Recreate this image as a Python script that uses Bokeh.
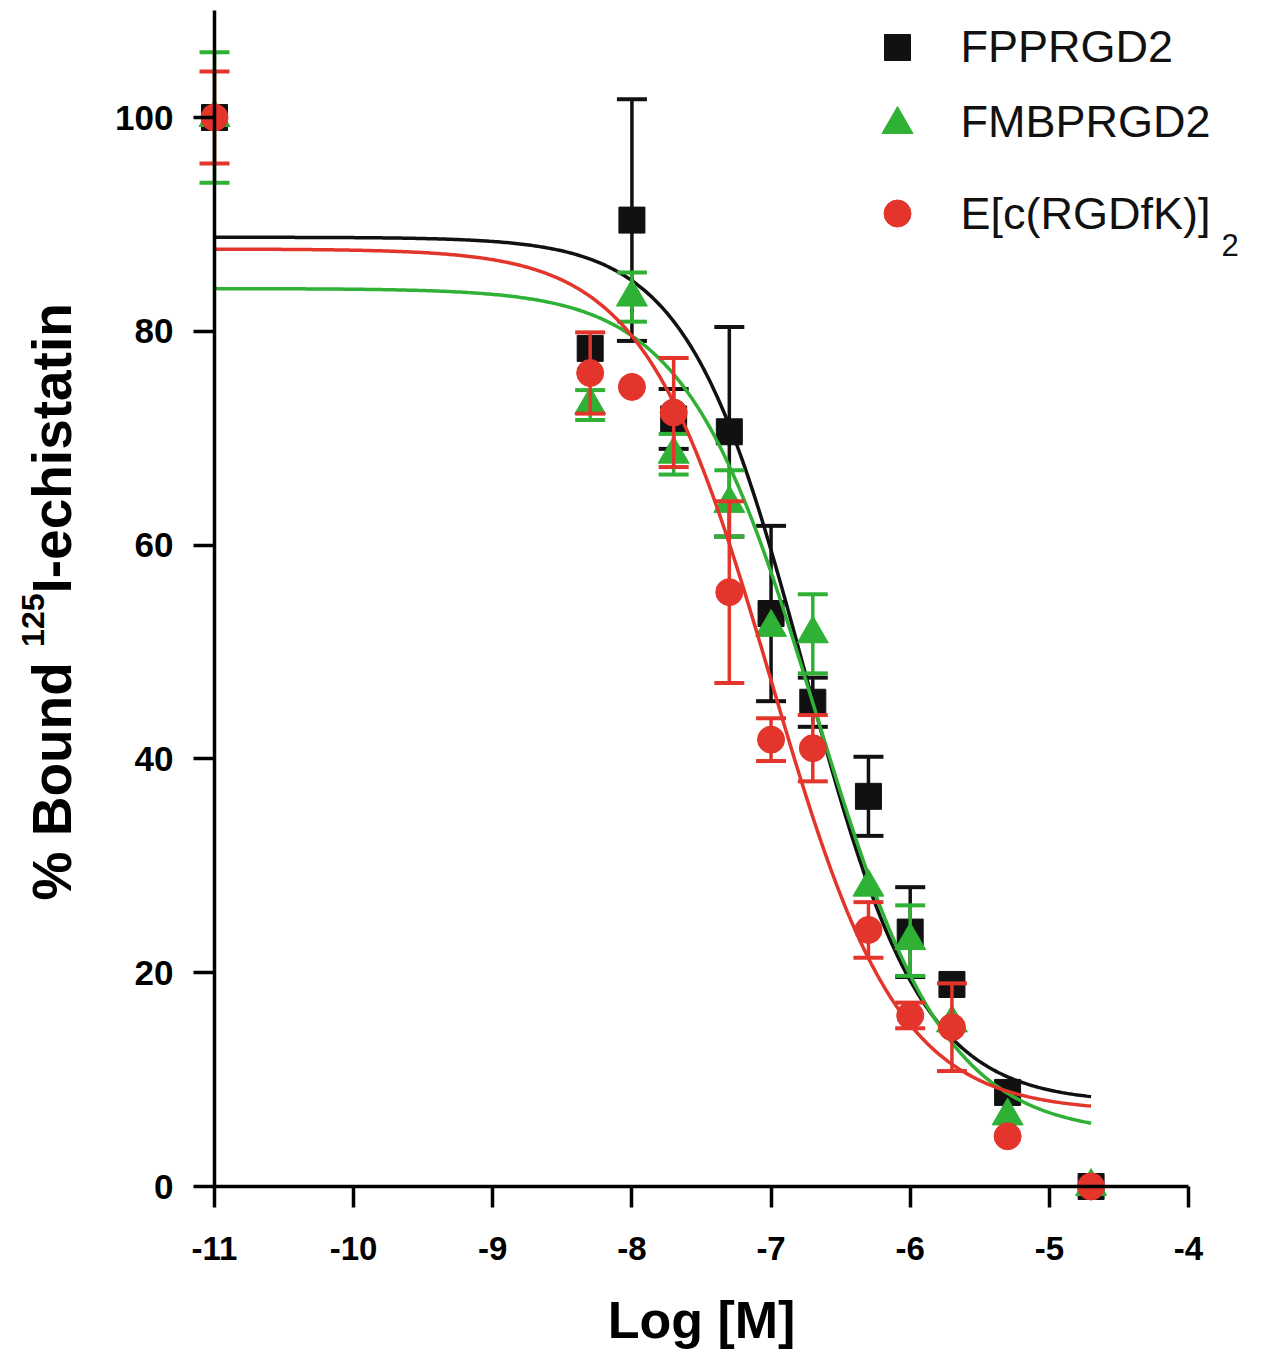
import numpy as np
from bokeh.plotting import figure
from bokeh.models import Range1d, FixedTicker, Label
from bokeh.embed import file_html
from bokeh.resources import INLINE

# ---------------- data ----------------
log_conc = [-11, -8.3, -8, -7.7, -7.3, -7, -6.7, -6.3, -6, -5.7, -5.3, -4.7]

fpp_mean = [100, 78.4, 90.4, 71.8, 70.6, 53.6, 45.3, 36.5, 23.8, 18.9, 8.8, 0]
fpp_err = [0, 0, 11.3, 2.8, 9.8, 8.2, 2.3, 3.7, 4.2, 0, 0, 0]

fmb_mean = [100, 73.1, 83.2, 68.5, 63.9, 52.3, 51.7, 28.0, 23.0, 15.3, 6.6, 0]
fmb_err = [6.1, 1.4, 2.3, 1.9, 3.1, 0, 3.7, 0, 3.3, 0, 0, 0]

rgd_mean = [100, 76.1, 74.8, 72.4, 55.6, 41.8, 41.0, 24.0, 16.0, 14.9, 4.7, 0]
rgd_err = [4.3, 3.8, 0, 5.1, 8.5, 2.0, 3.1, 2.6, 1.2, 4.1, 0, 0]

# fitted one-site competition curves: top, bottom, logIC50, hill
fpp_fit = [88.8, 7.8, -6.76, 1.03]
fmb_fit = [84.0, 4.8, -6.68, 0.93]
rgd_fit = [87.7, 7.0, -7.00, 0.95]
fit_range = [-11, -4.7]

series_names = ["FPPRGD2", "FMBPRGD2", "E[c(RGDfK)]"]
series_sub = ["", "", "2"]
series_colors = ["#111111", "#2eb135", "#e3352b"]
series_markers = ["square", "triangle", "circle"]
marker_sizes = [26, 31, 27]

x_ticks = [-11, -10, -9, -8, -7, -6, -5, -4]
x_tick_labels = ["-11", "-10", "-9", "-8", "-7", "-6", "-5", "-4"]
y_ticks = [0, 20, 40, 60, 80, 100]
y_tick_labels = ["0", "20", "40", "60", "80", "100"]

x_title = "Log [M]"
y_title_parts = ["% Bound ", "125", "I-echistatin"]

# ---------------- layout (pixels) ----------------
W, H = 1261, 1357
AX_LEFT_PX, AX_BOTTOM_PX = 214, 1186   # px of x=-11, y=0
PX_X = 139.14   # px per log unit
PX_Y = 10.69    # px per % unit

x_start = -11 - AX_LEFT_PX / PX_X
x_end = x_start + W / PX_X
y_end = AX_BOTTOM_PX / PX_Y
y_start = y_end - H / PX_Y


def dx(px):
    return x_start + px / PX_X


def dy(py):
    return y_end - py / PX_Y


p = figure(width=W, height=H, x_range=Range1d(x_start, x_end),
           y_range=Range1d(y_start, y_end), output_backend="svg",
           toolbar_location=None, min_border=0)
p.outline_line_color = None
p.xgrid.visible = False
p.ygrid.visible = False
p.background_fill_color = "white"
p.border_fill_color = "white"

FONT = "Liberation Sans"

xa = p.xaxis[0]
ya = p.yaxis[0]
xa.fixed_location = 0
ya.fixed_location = -11
xa.bounds = (-11, -4)
ya.bounds = (0, 110)
xa.ticker = FixedTicker(ticks=x_ticks)
ya.ticker = FixedTicker(ticks=y_ticks)
xa.major_label_overrides = {t: l for t, l in zip(x_ticks, x_tick_labels)}
ya.major_label_overrides = {t: l for t, l in zip(y_ticks, y_tick_labels)}
for ax in (xa, ya):
    ax.axis_line_width = 3.5
    ax.axis_line_color = "black"
    ax.major_tick_line_width = 3.5
    ax.major_tick_line_color = "black"
    ax.major_tick_out = 21
    ax.major_tick_in = 0
    ax.minor_tick_out = 0
    ax.minor_tick_in = 0
    ax.major_label_text_font = FONT
    ax.major_label_text_font_style = "bold"
    ax.major_label_text_color = "black"
xa.major_label_text_font_size = "33px"
ya.major_label_text_font_size = "35px"
xa.major_label_standoff = 29
ya.major_label_standoff = 20
xa.axis_label = x_title
xa.axis_label_text_font = FONT
xa.axis_label_text_font_style = "bold"
xa.axis_label_text_font_size = "52px"
xa.axis_label_text_color = "black"
xa.axis_label_standoff = 28

# ---------------- series ----------------
means = [fpp_mean, fmb_mean, rgd_mean]
errs = [fpp_err, fmb_err, rgd_err]
fits = [fpp_fit, fmb_fit, rgd_fit]

xc = np.linspace(fit_range[0], fit_range[1], 400)
for m, e, f, col, mk, ms in zip(means, errs, fits, series_colors, series_markers, marker_sizes):
    top, bot, lic, hill = f
    yc = bot + (top - bot) / (1 + 10 ** ((xc - lic) * hill))
    p.line(xc, yc, line_color=col, line_width=3.5)
    ex = [x for x, er in zip(log_conc, e) if er > 0]
    ey = [y for y, er in zip(m, e) if er > 0]
    ee = [er for er in e if er > 0]
    lo = [y - er for y, er in zip(ey, ee)]
    hi = [y + er for y, er in zip(ey, ee)]
    p.segment(x0=ex, y0=lo, x1=ex, y1=hi, line_color=col, line_width=3.5)
    p.scatter(x=ex + ex, y=lo + hi, marker="dash", size=30, line_color=col, line_width=4)
    p.scatter(x=log_conc, y=m, marker=mk, size=ms, fill_color=col, line_color=col)

# ---------------- legend (manual, for the subscript) ----------------
leg_marker_px = 897
leg_text_px = 960
leg_rows_py = [47, 124, 213]
leg_base_py = [46, 121, 213]
for name, sub, col, mk, ms, ry, by in zip(series_names, series_sub, series_colors,
                                          series_markers, marker_sizes, leg_rows_py, leg_base_py):
    p.scatter(x=[dx(leg_marker_px)], y=[dy(ry)], marker=mk, size=ms, fill_color=col, line_color=col)
    p.add_layout(Label(x=dx(leg_text_px), y=dy(by), text=name, text_font=FONT,
                       text_font_size="45px", text_baseline="alphabetic", text_align="left",
                       text_color="#111111"))
    if sub:
        p.add_layout(Label(x=dx(1221), y=dy(by + 31), text=sub, text_font=FONT,
                           text_font_size="31px", text_baseline="alphabetic", text_align="left",
                           text_color="#111111"))

# ---------------- rotated y-axis title with superscript ----------------
Y_FS, SUP_FS = 55, 32
ytitle_base_px = 51
ysup_base_px = 32
start_py = 900
w0 = 4.611 * Y_FS
w1 = 3 * 0.556 * SUP_FS
p.add_layout(Label(x=dx(ytitle_base_px), y=dy(start_py), text=y_title_parts[0], angle=np.pi / 2,
                   text_font=FONT, text_font_style="bold", text_font_size=f"{Y_FS}px",
                   text_baseline="alphabetic", text_align="left", text_color="black"))
p.add_layout(Label(x=dx(ysup_base_px), y=dy(start_py - w0), text=y_title_parts[1], angle=np.pi / 2,
                   text_font=FONT, text_font_style="bold", text_font_size=f"{SUP_FS}px",
                   text_baseline="alphabetic", text_align="left", text_color="black"))
p.add_layout(Label(x=dx(ytitle_base_px), y=dy(start_py - w0 - w1), text=y_title_parts[2], angle=np.pi / 2,
                   text_font=FONT, text_font_style="bold", text_font_size=f"{Y_FS}px",
                   text_baseline="alphabetic", text_align="left", text_color="black"))

open("out.html", "w").write(file_html(p, INLINE))
